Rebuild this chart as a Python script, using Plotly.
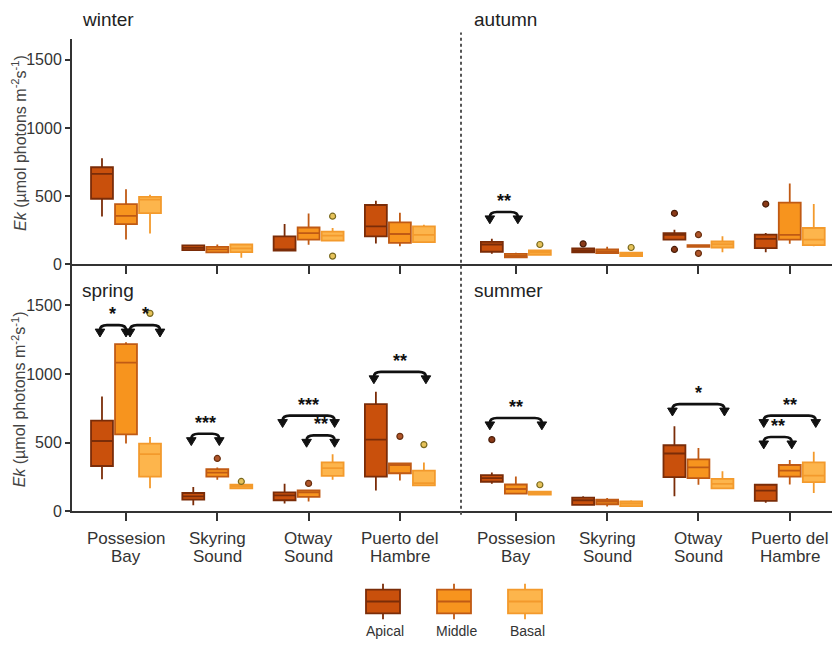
import plotly.graph_objects as go

# ---------------- data ----------------
sites = ["Possesion<br>Bay", "Skyring<br>Sound", "Otway<br>Sound", "Puerto del<br>Hambre"]
layers = ["Apical", "Middle", "Basal"]
y_ticks = [0, 500, 1000, 1500]

# (lower whisker, Q1, median, Q3, upper whisker) for each site
winter_apical = [(350, 481, 664, 712, 778), (101, 104, 121, 138, 145), (97, 100, 110, 205, 295), (152, 205, 278, 435, 466)]
winter_middle = [(181, 295, 355, 442, 551), (85, 88, 109, 128, 145), (143, 181, 229, 270, 372), (133, 157, 222, 307, 379)]
winter_basal = [(225, 375, 475, 495, 510), (48, 89, 116, 145, 145), (174, 174, 210, 239, 266), (162, 162, 215, 278, 290)]
autumn_apical = [(77, 92, 145, 164, 188), (82, 87, 101, 116, 121), (181, 181, 215, 229, 254), (89, 118, 186, 217, 229)]
autumn_middle = [(48, 50, 62, 77, 85), (80, 82, 94, 109, 128), (121, 127, 135, 141, 145), (150, 181, 215, 452, 592)]
autumn_basal = [(68, 70, 87, 101, 101), (58, 60, 72, 85, 85), (89, 123, 147, 167, 205), (133, 140, 181, 266, 442)]
spring_apical = [(233, 329, 511, 660, 835), (43, 84, 108, 132, 175), (55, 79, 115, 137, 199), (151, 252, 521, 780, 871)]
spring_middle = [(492, 559, 1082, 1217, 1231), (228, 252, 281, 305, 317), (70, 103, 137, 151, 151), (223, 276, 336, 348, 348)]
spring_basal = [(166, 252, 415, 492, 540), (163, 165, 180, 192, 192), (228, 257, 314, 355, 415), (185, 188, 204, 295, 355)]
summer_apical = [(199, 214, 240, 262, 281), (43, 45, 79, 98, 108), (108, 247, 420, 480, 619), (60, 74, 149, 192, 192)]
summer_middle = [(127, 127, 161, 194, 252), (34, 50, 70, 84, 96), (192, 240, 319, 377, 461), (194, 252, 295, 336, 372)]
summer_basal = [(118, 120, 132, 142, 142), (34, 36, 55, 70, 79), (163, 165, 199, 235, 290), (132, 211, 259, 355, 432)]

# outliers: (site index, layer index, value)
winter_outliers = [(2, 2, 353), (2, 2, 60)]
autumn_outliers = [(0, 2, 145), (1, 0, 150), (1, 2, 123), (2, 0, 374), (2, 0, 109), (2, 1, 217), (2, 1, 80), (3, 0, 442)]
spring_outliers = [(0, 2, 1442), (1, 1, 384), (1, 2, 216), (2, 1, 202), (3, 1, 545), (3, 2, 485)]
summer_outliers = [(0, 0, 521), (0, 2, 192)]

# significance brackets: (site, from layer, to layer, bracket height, label)
autumn_sig = [(0, 0, 1, 384, "**")]
spring_sig = [(0, 0, 1, 1356, "*"), (0, 1, 2, 1356, "*"), (1, 0, 1, 564, "***"),
              (2, 0, 2, 696, "***"), (2, 1, 2, 552, "**"), (3, 0, 2, 1015, "**")]
summer_sig = [(0, 0, 2, 679, "**"), (2, 0, 2, 780, "*"), (3, 0, 2, 696, "**"), (3, 0, 1, 540, "**")]

# ---------------- style ----------------
W, H = 832, 647
FONT = "Liberation Sans, Arial, sans-serif"
fill = ["#C9500C", "#F7941E", "#FDB54C"]
edge = ["#7A2C08", "#C05A14", "#F39A2C"]
out_fill = ["#8A3A18", "#B0562A", "#E6C25A"]
out_edge = ["#4A1E0A", "#6A3010", "#7A6A20"]

UNIT_PX = 91.3
X0_PX = 126.0
XL_PX, XR_PX = 72.0, 832.0
group_gap = 1.27
site_pos = [0, 1, 2, 3, 0 + 3 + group_gap, 1 + 3 + group_gap, 2 + 3 + group_gap, 3 + 3 + group_gap]
offsets = [-0.263, 0.0, 0.263]
BOXW = 0.24

x_range = [(XL_PX - X0_PX) / UNIT_PX, (XR_PX - X0_PX) / UNIT_PX]
top_px = (40.0, 268.0)
bot_px = (268.0, 518.3)
top_range = [0, 1650]
bot_range = [0, 1800]


def py2paper(py):
    return 1 - py / H


def px2paper(px):
    return px / W


fig = go.Figure()

rows = [
    ("x", "y", [winter_apical, winter_middle, winter_basal], [autumn_apical, autumn_middle, autumn_basal],
     winter_outliers, autumn_outliers, [], autumn_sig, top_range, top_px),
    ("x2", "y2", [spring_apical, spring_middle, spring_basal], [summer_apical, summer_middle, summer_basal],
     spring_outliers, summer_outliers, spring_sig, summer_sig, bot_range, bot_px),
]

shapes = []
annotations = []

for xa, ya, left, right, lout, rout, lsig, rsig, yr, ypx in rows:
    ypu = (ypx[1] - ypx[0]) / (yr[1] - yr[0])  # px per data unit
    for li in range(3):
        stats = left[li] + right[li]
        xs = [site_pos[i] + offsets[li] for i in range(8)]
        fig.add_trace(go.Box(
            x=xs,
            lowerfence=[s[0] for s in stats], q1=[s[1] for s in stats], median=[s[2] for s in stats],
            q3=[s[3] for s in stats], upperfence=[s[4] for s in stats],
            width=BOXW, whiskerwidth=0, fillcolor=fill[li], line=dict(color=edge[li], width=1.8),
            boxpoints=False, showlegend=False, xaxis=xa, yaxis=ya, hoverinfo="skip",
        ))
    # outliers
    for outs, shift in ((lout, 0), (rout, 4)):
        for li in range(3):
            pts = [(site_pos[s + shift] + offsets[li], v) for s, l, v in outs if l == li]
            if pts:
                fig.add_trace(go.Scatter(
                    x=[p[0] for p in pts], y=[p[1] for p in pts], mode="markers",
                    marker=dict(size=6, color=out_fill[li], line=dict(color=out_edge[li], width=1.2)),
                    showlegend=False, xaxis=xa, yaxis=ya, hoverinfo="skip",
                ))
    # significance brackets
    dxu = 1.0 / UNIT_PX
    dyu = 1.0 / ypu
    for sigs, shift in ((lsig, 0), (rsig, 4)):
        for s, a, b, top, lab in sigs:
            x1 = site_pos[s + shift] + offsets[a] - 2 * dxu
            x2 = site_pos[s + shift] + offsets[b] + 2 * dxu
            if lab == "*" and shift == 0 and s == 0 and a == 1:
                x1 += 6 * dxu
                x2 += 8 * dxu
            if lab == "*" and shift == 0 and s == 0 and a == 0:
                x2 -= 2 * dxu
            r = 7
            path = (f"M {x1},{top - 5 * dyu} Q {x1},{top} {x1 + r * dxu},{top} "
                    f"L {x2 - r * dxu},{top} Q {x2},{top} {x2},{top - 5 * dyu}")
            shapes.append(dict(type="path", path=path, xref=xa, yref=ya,
                               line=dict(color="#111111", width=2.6)))
            for xt in (x1, x2):
                tri = (f"M {xt - 4.8 * dxu},{top - 4 * dyu} L {xt + 4.8 * dxu},{top - 4 * dyu} "
                       f"L {xt},{top - 12 * dyu} Z")
                shapes.append(dict(type="path", path=tri, xref=xa, yref=ya,
                                   fillcolor="#111111", line=dict(color="#111111", width=1)))
            annotations.append(dict(x=(x1 + x2) / 2, y=top - 1 * dyu, xref=xa, yref=ya, text="<b>" + lab + "</b>",
                                    showarrow=False, yanchor="bottom",
                                    font=dict(family=FONT, size=18, color="#111111")))

axis_common = dict(showgrid=False, zeroline=False, showline=True, linecolor="#333333", linewidth=2,
                   ticks="outside", tickcolor="#333333", tickwidth=2)

fig.update_layout(
    width=W, height=H, autosize=False, margin=dict(l=0, r=0, t=0, b=0),
    paper_bgcolor="white", plot_bgcolor="white",
    font=dict(family=FONT, color="#333333"),
    xaxis=dict(domain=[px2paper(XL_PX), 1], range=x_range, anchor="y",
               tickvals=site_pos, showticklabels=False, ticklen=8, **axis_common),
    yaxis=dict(domain=[py2paper(top_px[1]), py2paper(top_px[0])], range=top_range, anchor="x",
               tickvals=y_ticks, ticklen=5, tickfont=dict(size=16, color="#333333"), **axis_common),
    xaxis2=dict(domain=[px2paper(XL_PX), 1], range=x_range, anchor="y2",
                tickvals=site_pos, showticklabels=False, ticklen=8, **axis_common),
    yaxis2=dict(domain=[py2paper(bot_px[1]), py2paper(bot_px[0])], range=bot_range, anchor="x2",
                tickvals=y_ticks, ticklen=5, tickfont=dict(size=16, color="#333333"), **axis_common),
)

# category labels (two lines each, tighter spacing than plotly's default)
for i, pos in enumerate(site_pos):
    lines = sites[i % 4].split("<br>")
    for k, ln in enumerate(lines):
        annotations.append(dict(x=pos, y=py2paper(546 + 18 * k), xref="x2", yref="paper", text=ln,
                                showarrow=False, xanchor="center", yanchor="middle",
                                font=dict(family=FONT, size=17, color="#333333")))

# divider between seasons
shapes.append(dict(type="line", xref="paper", yref="paper", x0=px2paper(461), x1=px2paper(461),
                   y0=py2paper(522), y1=py2paper(33), line=dict(color="#555555", width=2, dash="dot")))

# season labels
for txt, lx, ly in (("winter", 80, 20), ("autumn", 472, 20), ("spring", 80, 295), ("summer", 472, 295)):
    annotations.append(dict(x=px2paper(lx), y=py2paper(ly), xref="paper", yref="paper", text=txt,
                            showarrow=False, xanchor="left", yanchor="middle",
                            font=dict(family=FONT, size=19, color="#222222")))

# y axis titles
ytitle = "<i>Ek</i> (µmol photons m<sup>-2</sup>s<sup>-1</sup>)"
for cy in (145, 405):
    annotations.append(dict(x=px2paper(19), y=py2paper(cy), xref="paper", yref="paper", text=ytitle,
                            showarrow=False, textangle=-90, xanchor="center", yanchor="middle",
                            font=dict(family=FONT, size=16, color="#444444")))

# legend
leg_x = [383, 454, 525]
for i, lab in enumerate(layers):
    cx = leg_x[i]
    shapes.append(dict(type="line", xref="paper", yref="paper", x0=px2paper(cx), x1=px2paper(cx),
                       y0=py2paper(628), y1=py2paper(592), line=dict(color=edge[i], width=1.8)))
    shapes.append(dict(type="rect", xref="paper", yref="paper", x0=px2paper(cx - 17), x1=px2paper(cx + 17),
                       y0=py2paper(622), y1=py2paper(598), fillcolor=fill[i], line=dict(color=edge[i], width=1.8)))
    shapes.append(dict(type="line", xref="paper", yref="paper", x0=px2paper(cx - 17), x1=px2paper(cx + 17),
                       y0=py2paper(610), y1=py2paper(610), line=dict(color=edge[i], width=1.8)))
    annotations.append(dict(x=px2paper(cx + 2), y=py2paper(640), xref="paper", yref="paper", text=lab,
                            showarrow=False, xanchor="center", yanchor="middle",
                            font=dict(family=FONT, size=14, color="#333333")))

fig.update_layout(shapes=shapes, annotations=annotations)
fig.write_html("out.html", config={"displayModeBar": False, "responsive": False},
               post_script="document.body.style.margin='0';document.body.style.overflow='hidden';")
